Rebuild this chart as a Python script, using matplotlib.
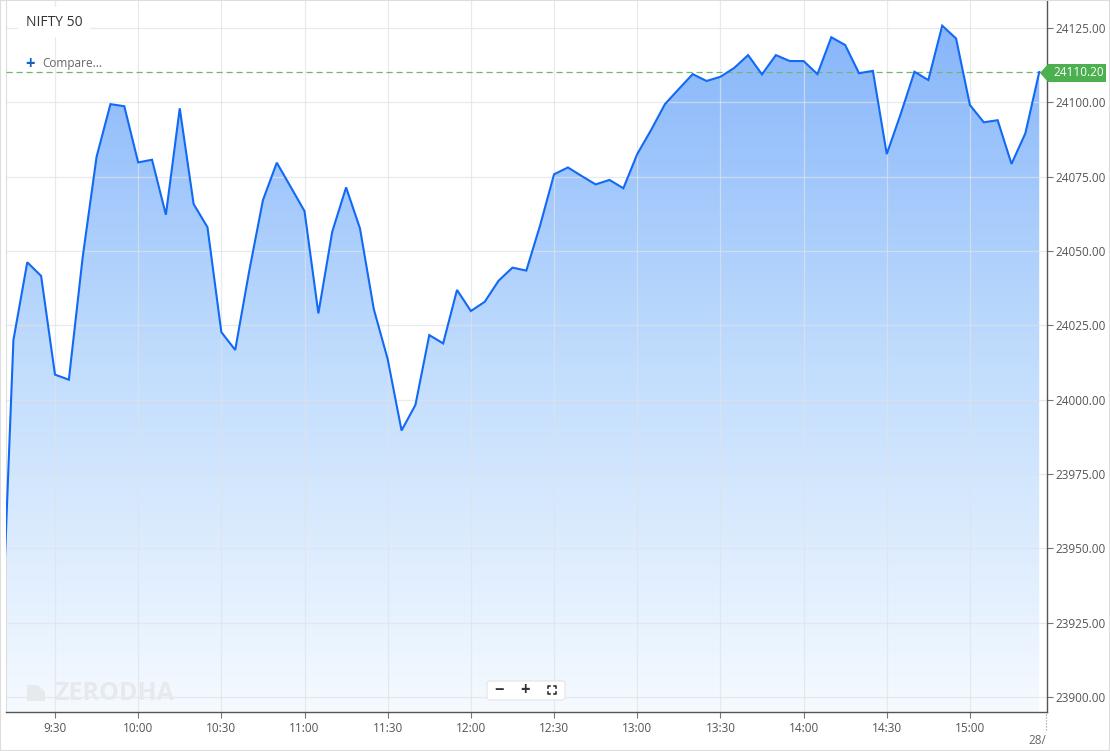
import matplotlib.pyplot as plt
import numpy as np
from matplotlib.colors import LinearSegmentedColormap
from matplotlib.patches import Polygon, FancyBboxPatch
from matplotlib.lines import Line2D

plt.rcParams['font.family'] = ['Open Sans', 'DejaVu Sans']

# NIFTY 50 intraday, 5-minute closes from 9:15 to 15:25 (pre-open point first)
start_minute = -5
step_minutes = 5
closes = [
    23900.0,
    24020.0, 24046.2, 24041.6, 24008.4, 24006.7, 24048.0, 24081.7, 24099.4,
    24098.7, 24079.8, 24080.7, 24062.2, 24098.0, 24065.8, 24058.0, 24022.7,
    24016.7, 24043.0, 24067.1, 24079.7, 24071.6, 24063.4, 24029.0, 24056.5,
    24071.4, 24057.6, 24030.4, 24013.6, 23989.6, 23998.2, 24021.7, 24018.9,
    24036.9, 24029.8, 24032.9, 24040.0, 24044.4, 24043.4, 24058.7, 24075.8,
    24078.1, 24075.2, 24072.4, 24073.9, 24071.1, 24082.6, 24090.7, 24099.4,
    24104.5, 24109.5, 24107.2, 24108.6, 24111.6, 24115.9, 24109.4, 24115.9,
    24113.9, 24113.9, 24109.5, 24121.9, 24119.3, 24109.8, 24110.6, 24082.6,
    24096.0, 24110.3, 24107.5, 24125.8, 24121.5, 24099.1, 24093.3, 24094.0,
    24079.3, 24089.6, 24110.2,
]
last_price = 24110.20
time_ticks = [15, 45, 75, 105, 135, 165, 195, 225, 255, 285, 315, 345]
time_labels = ['9:30', '10:00', '10:30', '11:00', '11:30', '12:00',
               '12:30', '13:00', '13:30', '14:00', '14:30', '15:00']
price_ticks = [23900, 23925, 23950, 23975, 24000, 24025, 24050, 24075, 24100, 24125]

minutes = start_minute + step_minutes * np.arange(len(closes))
closes = np.array(closes)

W, H = 1110, 751
fig = plt.figure(figsize=(W / 100, H / 100), dpi=100)
ax = fig.add_axes([6 / W, 39 / H, 1041 / W, 711 / H])

x0, x1 = -2.67, 372.8
y0, y1 = 23894.9, 24134.1
ax.set_xlim(x0, x1)
ax.set_ylim(y0, y1)

# gradient area fill clipped to the area under the line
cmap = LinearSegmentedColormap.from_list('area', ['#f5faff', '#c0dcfd', '#83b3fa'])
grad = np.linspace(0, 1, 256).reshape(-1, 1)
im = ax.imshow(grad, extent=[x0, x1, y0, y1], origin='lower', aspect='auto',
               cmap=cmap, zorder=1)
verts = np.vstack([[minutes[0], y0], np.column_stack([minutes, closes]), [minutes[-1], y0]])
poly = Polygon(verts, closed=True, facecolor='none', edgecolor='none')
ax.add_patch(poly)
im.set_clip_path(poly)

ax.plot(minutes, closes, color='#1169f5', lw=1.5, zorder=4, solid_joinstyle='miter')

# grid
for t in time_ticks:
    ax.axvline(t, color='#dfe3e8', lw=0.9, alpha=0.7, zorder=2)
for p in price_ticks:
    ax.axhline(p, color='#dfe3e8', lw=0.9, alpha=0.7, zorder=2)

ax.axhline(last_price, color='#72b574', lw=0.9, ls=(0, (5, 3)), zorder=3)

ax.set_xticks(time_ticks)
ax.set_xticklabels(time_labels)
ax.set_yticks(price_ticks)
ax.set_yticklabels([f'{p:.2f}' for p in price_ticks])
ax.yaxis.tick_right()
ax.tick_params(axis='both', labelsize=8.5, labelcolor='#555555', color='#777777',
               length=4, width=0.8)
ax.tick_params(axis='x', pad=3)
ax.tick_params(axis='y', pad=2)

ax.spines['top'].set_visible(False)
ax.spines['left'].set_color('#dddddd')
ax.spines['right'].set_color('#555555')
ax.spines['bottom'].set_color('#555555')
ax.spines['right'].set_linewidth(1.0)
ax.spines['bottom'].set_linewidth(1.0)

# last price marker on the price axis
lx = 1040 / W
ly = 1 - 73 / H
hh = 9 / H
lab = Polygon([[lx, ly], [lx + 8 / W, ly + hh], [1106 / W, ly + hh],
               [1106 / W, ly - hh], [lx + 8 / W, ly - hh]], closed=True,
              transform=fig.transFigure, facecolor='#4caf50', edgecolor='none', zorder=10)
fig.patches.append(lab)
fig.text(1104 / W, ly, f'{last_price:.2f}', ha='right', va='center', color='white',
         fontsize=8.5, zorder=11)

# header
fig.text(26 / W, 1 - 22 / H, 'NIFTY 50', fontsize=10, color='#333333', va='center',
         bbox=dict(boxstyle='square,pad=0.55', fc='white', ec='none'))
fig.text(25 / W, 1 - 64 / H, '+', fontsize=12, color='#1565c0', va='center',
         fontweight='bold')
fig.text(42 / W, 1 - 64 / H, 'Compare...', fontsize=8.5, color='#666666', va='center')

# watermark
fig.text(54 / W, 1 - 693 / H, 'ZERODHA', fontsize=18, color='#e7eaed', va='center',
         fontweight='bold', zorder=0.5)
fig.patches.append(Polygon([[27 / W, 1 - 701 / H], [27 / W, 1 - 685 / H],
                            [38 / W, 1 - 685 / H], [45 / W, 1 - 692 / H],
                            [45 / W, 1 - 701 / H]], closed=True,
                           transform=fig.transFigure, facecolor='#e7eaed',
                           edgecolor='none'))

# zoom controls
fig.patches.append(FancyBboxPatch((487 / W, 1 - 700 / H), 78 / W, 19 / H,
                                  boxstyle='round,pad=0,rounding_size=0.003',
                                  transform=fig.transFigure, facecolor='white',
                                  edgecolor='#e4e4e4', lw=0.8, zorder=5))
fig.text(499 / W, 1 - 690 / H, '\u2212', fontsize=12, color='#333333', ha='center',
         va='center', fontweight='bold', zorder=6)
fig.text(525 / W, 1 - 690 / H, '+', fontsize=12, color='#333333', ha='center',
         va='center', fontweight='bold', zorder=6)
fig.lines.append(Line2D([539 / W, 539 / W], [1 - 683 / H, 1 - 698 / H],
                        transform=fig.transFigure, color='#e4e4e4', lw=0.8))
cx, cy, s, c = 552, 690, 4, 2
for dx in (-1, 1):
    for dy in (-1, 1):
        xs = [(cx + dx * (s - c)) / W, (cx + dx * s) / W, (cx + dx * s) / W]
        ys = [1 - (cy + dy * s) / H, 1 - (cy + dy * s) / H, 1 - (cy + dy * (s - c)) / H]
        fig.lines.append(Line2D(xs, ys, transform=fig.transFigure, color='#333333',
                                lw=1.2, zorder=6))

# date stub at right end of time axis
fig.lines.append(Line2D([1046 / W, 1046 / W], [1 - 714 / H, 1 - 730 / H],
                        transform=fig.transFigure, color='#888888', lw=0.8, ls=':'))
fig.text(1046 / W, 1 - 740 / H, '28/', fontsize=8.5, color='#666666', ha='right',
         va='center')

# outer frame
fig.patches.append(plt.Rectangle((0, 0), 1, 1, transform=fig.transFigure,
                                 facecolor='none', edgecolor='#dddddd', lw=1.5))

fig.savefig('out.png', dpi=100)
